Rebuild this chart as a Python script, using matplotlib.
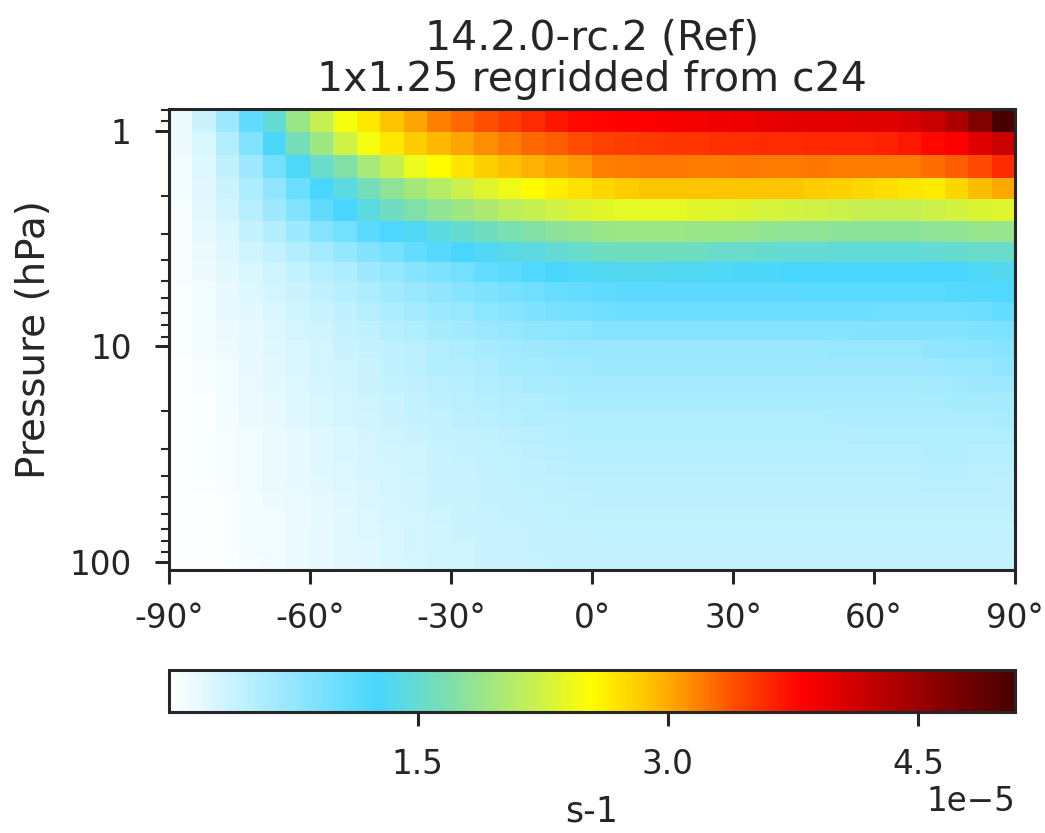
import numpy as np
import matplotlib
matplotlib.use('Agg')
import matplotlib.pyplot as plt
from matplotlib.colors import LinearSegmentedColormap
from matplotlib.ticker import ScalarFormatter, NullFormatter, FixedLocator, FuncFormatter

plt.rcParams['font.family'] = ['DejaVu Sans']
plt.rcParams['text.color'] = '#262626'
plt.rcParams['axes.labelcolor'] = '#262626'
plt.rcParams['xtick.color'] = '#262626'
plt.rcParams['ytick.color'] = '#262626'
plt.rcParams['axes.edgecolor'] = '#262626'

title = '14.2.0-rc.2 (Ref)\n1x1.25 regridded from c24'
units = 's-1'

# pressure edges of the model levels shown (hPa), top -> bottom
p_edges = [0.7951, 1.0194, 1.3005, 1.6508, 2.0850, 2.6202, 3.2764, 4.0766,
           5.0468, 6.2168, 7.6198, 9.2929, 11.2769, 13.6434, 16.4571,
           19.7916, 23.7304, 28.3678, 33.8100, 40.1754, 47.6439, 56.3879,
           66.6034, 78.5123, 92.3657, 108.663]

# latitude blocks, 5 degrees wide
lat_edges = np.arange(-90, 91, 5)

# zonal mean values, units of 1e-5 s-1, one row per level (top -> bottom),
# columns from 90S to 90N
jval = [
    [0.13, 0.38, 0.68, 1.08, 1.48, 1.88, 2.18, 2.48, 2.68, 2.88, 3.03, 3.18, 3.28, 3.38, 3.48, 3.58, 3.68, 3.76,
     3.78, 3.81, 3.83, 3.86, 3.88, 3.91, 3.93, 3.96, 3.98, 3.98, 4.01, 4.03, 4.03, 4.08, 4.18, 4.38, 4.68, 5.08],
    [0.13, 0.28, 0.53, 0.88, 1.28, 1.63, 1.93, 2.23, 2.48, 2.68, 2.83, 2.93, 3.03, 3.13, 3.21, 3.28, 3.33, 3.41,
     3.46, 3.48, 3.51, 3.53, 3.53, 3.56, 3.56, 3.58, 3.58, 3.61, 3.61, 3.61, 3.63, 3.68, 3.76, 3.83, 4.03, 4.18],
    [0.11, 0.26, 0.46, 0.68, 0.98, 1.31, 1.53, 1.73, 1.98, 2.18, 2.41, 2.56, 2.70, 2.81, 2.90, 2.97, 3.03, 3.08,
     3.18, 3.21, 3.23, 3.23, 3.21, 3.21, 3.23, 3.21, 3.21, 3.23, 3.21, 3.21, 3.21, 3.21, 3.26, 3.33, 3.43, 3.58],
    [0.11, 0.23, 0.38, 0.58, 0.78, 1.03, 1.26, 1.43, 1.63, 1.81, 1.96, 2.08, 2.21, 2.33, 2.43, 2.55, 2.64, 2.72,
     2.78, 2.84, 2.87, 2.87, 2.87, 2.87, 2.87, 2.87, 2.87, 2.84, 2.81, 2.78, 2.74, 2.70, 2.66, 2.78, 2.91, 3.01],
    [0.08, 0.21, 0.33, 0.51, 0.68, 0.88, 1.08, 1.26, 1.43, 1.58, 1.71, 1.83, 1.93, 2.03, 2.11, 2.18, 2.23, 2.31,
     2.36, 2.38, 2.38, 2.38, 2.36, 2.33, 2.31, 2.28, 2.26, 2.23, 2.21, 2.18, 2.18, 2.18, 2.21, 2.26, 2.31, 2.33],
    [0.08, 0.18, 0.28, 0.41, 0.53, 0.68, 0.83, 0.98, 1.13, 1.23, 1.33, 1.43, 1.51, 1.58, 1.66, 1.73, 1.78, 1.83,
     1.88, 1.91, 1.91, 1.91, 1.88, 1.88, 1.86, 1.83, 1.81, 1.81, 1.78, 1.78, 1.78, 1.78, 1.81, 1.83, 1.86, 1.86],
    [0.07, 0.16, 0.23, 0.33, 0.43, 0.53, 0.63, 0.76, 0.86, 0.96, 1.06, 1.16, 1.26, 1.33, 1.38, 1.43, 1.48, 1.53,
     1.58, 1.58, 1.58, 1.58, 1.56, 1.53, 1.53, 1.51, 1.48, 1.48, 1.46, 1.46, 1.46, 1.46, 1.48, 1.51, 1.53, 1.53],
    [0.07, 0.13, 0.21, 0.28, 0.36, 0.43, 0.51, 0.58, 0.68, 0.76, 0.83, 0.91, 0.98, 1.06, 1.13, 1.21, 1.26, 1.31,
     1.33, 1.34, 1.34, 1.33, 1.32, 1.31, 1.29, 1.28, 1.27, 1.26, 1.26, 1.26, 1.26, 1.26, 1.26, 1.26, 1.31, 1.34],
    [0.06, 0.12, 0.18, 0.25, 0.31, 0.38, 0.45, 0.52, 0.58, 0.65, 0.71, 0.77, 0.83, 0.89, 0.95, 1.00, 1.04, 1.07,
     1.10, 1.12, 1.13, 1.13, 1.13, 1.13, 1.13, 1.13, 1.13, 1.14, 1.14, 1.14, 1.14, 1.14, 1.14, 1.16, 1.18, 1.21],
    [0.06, 0.11, 0.17, 0.22, 0.28, 0.34, 0.40, 0.46, 0.52, 0.58, 0.63, 0.69, 0.74, 0.79, 0.84, 0.89, 0.93, 0.96,
     0.99, 1.01, 1.02, 1.02, 1.02, 1.02, 1.02, 1.02, 1.02, 1.01, 1.01, 1.01, 0.99, 0.99, 0.99, 0.99, 1.02, 1.06],
    [0.06, 0.10, 0.15, 0.20, 0.26, 0.31, 0.36, 0.41, 0.46, 0.51, 0.56, 0.61, 0.65, 0.69, 0.73, 0.77, 0.79, 0.81,
     0.83, 0.84, 0.84, 0.84, 0.84, 0.84, 0.84, 0.84, 0.84, 0.84, 0.84, 0.86, 0.86, 0.86, 0.86, 0.86, 0.89, 0.92],
    [0.05, 0.09, 0.14, 0.18, 0.23, 0.28, 0.32, 0.37, 0.41, 0.46, 0.50, 0.54, 0.58, 0.62, 0.65, 0.67, 0.69, 0.71,
     0.72, 0.72, 0.72, 0.72, 0.72, 0.72, 0.72, 0.72, 0.72, 0.72, 0.74, 0.74, 0.74, 0.74, 0.77, 0.79, 0.81, 0.83],
    [0.04, 0.07, 0.12, 0.17, 0.22, 0.27, 0.32, 0.36, 0.40, 0.45, 0.49, 0.53, 0.56, 0.58, 0.61, 0.63, 0.65, 0.66,
     0.67, 0.67, 0.67, 0.67, 0.67, 0.67, 0.67, 0.67, 0.67, 0.67, 0.67, 0.67, 0.67, 0.68, 0.69, 0.72, 0.74, 0.77],
    [0.04, 0.07, 0.11, 0.16, 0.21, 0.26, 0.30, 0.34, 0.38, 0.42, 0.46, 0.49, 0.52, 0.55, 0.57, 0.59, 0.60, 0.62,
     0.62, 0.62, 0.62, 0.62, 0.62, 0.62, 0.62, 0.62, 0.62, 0.62, 0.62, 0.62, 0.62, 0.62, 0.63, 0.65, 0.67, 0.69],
    [0.04, 0.06, 0.11, 0.15, 0.20, 0.24, 0.28, 0.32, 0.36, 0.40, 0.43, 0.47, 0.50, 0.52, 0.54, 0.56, 0.57, 0.59,
     0.59, 0.59, 0.59, 0.59, 0.59, 0.59, 0.59, 0.59, 0.59, 0.59, 0.59, 0.59, 0.59, 0.59, 0.60, 0.61, 0.62, 0.63],
    [0.04, 0.06, 0.10, 0.15, 0.19, 0.23, 0.27, 0.31, 0.34, 0.38, 0.41, 0.44, 0.47, 0.49, 0.51, 0.53, 0.54, 0.56,
     0.56, 0.56, 0.56, 0.56, 0.56, 0.56, 0.56, 0.56, 0.56, 0.56, 0.57, 0.57, 0.57, 0.57, 0.57, 0.58, 0.58, 0.59],
    [0.03, 0.05, 0.08, 0.12, 0.16, 0.20, 0.24, 0.28, 0.31, 0.35, 0.38, 0.41, 0.43, 0.46, 0.48, 0.50, 0.52, 0.53,
     0.54, 0.54, 0.54, 0.54, 0.54, 0.54, 0.54, 0.54, 0.54, 0.54, 0.54, 0.55, 0.55, 0.55, 0.55, 0.55, 0.55, 0.55],
    [0.03, 0.05, 0.08, 0.12, 0.16, 0.20, 0.23, 0.27, 0.30, 0.34, 0.36, 0.39, 0.42, 0.44, 0.46, 0.48, 0.50, 0.51,
     0.52, 0.52, 0.52, 0.52, 0.52, 0.52, 0.52, 0.52, 0.52, 0.52, 0.52, 0.52, 0.52, 0.52, 0.53, 0.53, 0.52, 0.52],
    [0.03, 0.05, 0.08, 0.11, 0.15, 0.19, 0.23, 0.26, 0.29, 0.32, 0.35, 0.38, 0.40, 0.43, 0.44, 0.46, 0.48, 0.49,
     0.50, 0.50, 0.50, 0.50, 0.50, 0.50, 0.50, 0.50, 0.50, 0.50, 0.50, 0.50, 0.50, 0.50, 0.51, 0.51, 0.50, 0.50],
    [0.03, 0.05, 0.08, 0.11, 0.15, 0.18, 0.22, 0.25, 0.28, 0.31, 0.34, 0.37, 0.39, 0.41, 0.43, 0.45, 0.46, 0.48,
     0.48, 0.48, 0.48, 0.48, 0.48, 0.48, 0.48, 0.48, 0.48, 0.48, 0.48, 0.48, 0.48, 0.48, 0.49, 0.49, 0.49, 0.48],
    [0.03, 0.04, 0.06, 0.09, 0.13, 0.16, 0.20, 0.23, 0.27, 0.30, 0.33, 0.37, 0.39, 0.41, 0.43, 0.44, 0.46, 0.46,
     0.47, 0.47, 0.47, 0.47, 0.47, 0.47, 0.47, 0.47, 0.47, 0.47, 0.47, 0.47, 0.47, 0.47, 0.47, 0.47, 0.47, 0.47],
    [0.03, 0.04, 0.06, 0.09, 0.12, 0.16, 0.19, 0.22, 0.26, 0.29, 0.32, 0.35, 0.38, 0.40, 0.42, 0.43, 0.44, 0.45,
     0.45, 0.45, 0.45, 0.45, 0.45, 0.45, 0.45, 0.45, 0.45, 0.45, 0.45, 0.45, 0.45, 0.45, 0.45, 0.45, 0.45, 0.45],
    [0.03, 0.04, 0.06, 0.09, 0.12, 0.15, 0.18, 0.22, 0.25, 0.28, 0.31, 0.34, 0.37, 0.39, 0.40, 0.42, 0.43, 0.43,
     0.44, 0.44, 0.44, 0.44, 0.44, 0.44, 0.44, 0.44, 0.44, 0.44, 0.44, 0.44, 0.44, 0.44, 0.44, 0.44, 0.44, 0.44],
    [0.03, 0.04, 0.06, 0.09, 0.12, 0.15, 0.18, 0.21, 0.24, 0.28, 0.31, 0.33, 0.36, 0.38, 0.39, 0.41, 0.42, 0.42,
     0.43, 0.43, 0.43, 0.43, 0.43, 0.43, 0.43, 0.43, 0.43, 0.43, 0.43, 0.43, 0.43, 0.43, 0.43, 0.43, 0.43, 0.43],
    [0.03, 0.04, 0.06, 0.08, 0.11, 0.15, 0.18, 0.21, 0.24, 0.27, 0.30, 0.33, 0.35, 0.37, 0.38, 0.40, 0.41, 0.41,
     0.42, 0.42, 0.42, 0.42, 0.42, 0.42, 0.42, 0.42, 0.42, 0.42, 0.42, 0.42, 0.42, 0.42, 0.42, 0.42, 0.42, 0.42],
]

vmin, vmax = 0.01e-5, 5.08e-5
cbar_ticks = [1.5e-5, 3.0e-5, 4.5e-5]
lat_ticks = [-90, -60, -30, 0, 30, 60, 90]

# white -> blue -> green -> yellow -> red colormap
cmap = LinearSegmentedColormap.from_list('WhBlGrYlRd', [
    (0.0, '#ffffff'), (0.246, '#48d6ff'), (0.335, '#80e0a8'), (0.43, '#c8f050'),
    (0.498, '#ffff00'), (0.553, '#ffd000'), (0.60, '#ffa000'), (0.667, '#ff5000'),
    (0.749, '#ff0000'), (1.0, '#480000')])

fig = plt.figure(figsize=(10.45, 8.33), dpi=100)
ax = fig.add_axes([0.1617, 0.3157, 0.8096, 0.5534])
data = np.array(jval) * 1e-5
mesh = ax.pcolormesh(lat_edges, p_edges, data, cmap=cmap, vmin=vmin, vmax=vmax)

ax.set_yscale('log')
ax.set_ylim(p_edges[-1], p_edges[0])
ax.yaxis.set_major_formatter(ScalarFormatter())
ax.yaxis.set_minor_formatter(NullFormatter())
ax.set_xlim(-90, 90)
ax.xaxis.set_major_locator(FixedLocator(lat_ticks))
ax.xaxis.set_major_formatter(FuncFormatter(lambda x, pos: '%d°' % x))

ax.set_ylabel('Pressure (hPa)', fontsize=28, labelpad=12)
ax.set_title(title, fontsize=29.5, linespacing=1.05, pad=13)
for s in ax.spines.values():
    s.set_linewidth(2.2)
ax.tick_params(axis='both', which='major', labelsize=23.5, length=10, width=2.2)
ax.tick_params(axis='both', which='minor', length=5.5, width=1.5)
ax.tick_params(axis='x', pad=13)
ax.tick_params(axis='y', pad=17)

cax = fig.add_axes([0.1617, 0.1453, 0.8096, 0.0504])
cbar = fig.colorbar(mesh, cax=cax, orientation='horizontal', ticks=cbar_ticks)
cbar.outline.set_linewidth(2.2)
cbar.ax.tick_params(labelsize=23.5, length=10, width=2.2, pad=16)
cbar.ax.xaxis.get_offset_text().set_fontsize(23.5)
cbar.set_label(units, fontsize=25, labelpad=10)

fig.savefig('out.png', dpi=100)
